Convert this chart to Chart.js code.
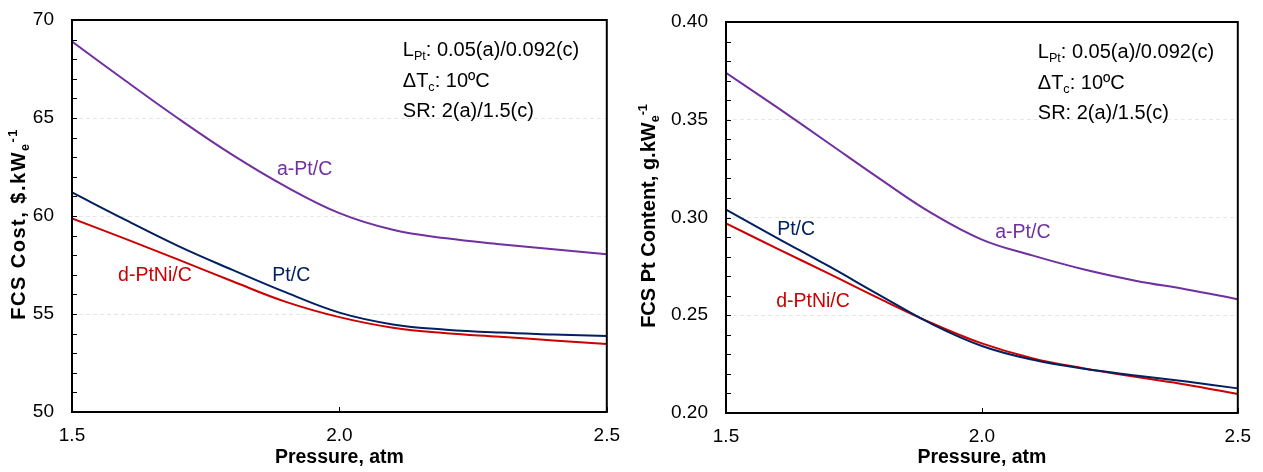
<!DOCTYPE html>
<html>
<head>
<meta charset="utf-8">
<script src="https://cdn.jsdelivr.net/npm/chart.js@4.4.1/dist/chart.umd.min.js"></script>
<style>
body { margin: 0; background: #fff; width: 1263px; height: 472px; overflow: hidden; position: relative; }
canvas { position: absolute; top: 0; }
#cost { left: 0; }
#ptc { left: 632px; }
</style>
</head>
<body>
<canvas id="cost" width="632" height="472"></canvas>
<canvas id="ptc" width="631" height="472"></canvas>
<script>
// values (pressure in atm)
var pressure = [1.5, 1.6, 1.7, 1.8, 1.9, 2.0, 2.1, 2.2, 2.3, 2.4, 2.5];

// FCS cost, $/kWe
var costAPtC  = [68.9, 66.9, 64.95, 63.12, 61.5, 60.15, 59.3, 58.86, 58.56, 58.3, 58.05];
var costPtC   = [61.2, 59.8, 58.45, 57.25, 56.1, 55.07, 54.47, 54.2, 54.05, 53.96, 53.88];
var costPtNiC = [59.88, 58.83, 57.76, 56.67, 55.62, 54.84, 54.3, 54.02, 53.84, 53.65, 53.47];

// FCS Pt content, g/kWe
var ptAPtC  = [0.374, 0.3563, 0.3381, 0.3199, 0.3025, 0.2887, 0.2805, 0.2734, 0.2677, 0.2632, 0.2582];
var ptPtC   = [0.304, 0.2895, 0.2752, 0.2603, 0.2458, 0.2343, 0.2272, 0.2226, 0.2192, 0.2161, 0.2126];
var ptPtNiC = [0.297, 0.2841, 0.2714, 0.2585, 0.2462, 0.2356, 0.2279, 0.2228, 0.2185, 0.2145, 0.2097];

var xTicks = [1.5, 2.0, 2.5];
var costRange = [50, 70];
var ptRange = [0.20, 0.40];

var notes = [
	[["L", 0], ["Pt", -1], [": 0.05(a)/0.092(c)", 0]],
	[["\u0394T", 0], ["c", -1], [": 10\u00baC", 0]],
	[["SR: 2(a)/1.5(c)", 0]]
];

var PURPLE = "#7030A0", NAVY = "#002060", RED = "#CC0000";
var FONT = "'Liberation Sans', Arial, sans-serif";

Chart.defaults.font.family = FONT;
Chart.defaults.color = "#000";

function fontStr(size, bold) {
	return (bold ? "bold " : "") + size + "px " + FONT;
}

// draws text with sub (-1) / superscript (1) pieces
function richText(ctx, parts, x, y, size, bold, align) {
	var small = size * 0.63;
	var w = 0;
	parts.forEach(p => {
		ctx.font = fontStr(p[1] ? small : size, bold);
		w += ctx.measureText(p[0]).width;
	});
	var cx = align == "center" ? x - w / 2 : x;
	parts.forEach(p => {
		ctx.font = fontStr(p[1] ? small : size, bold);
		var dy = p[1] == -1 ? size * 0.2 : (p[1] == 1 ? -size * 0.4 : 0);
		ctx.fillText(p[0], cx, y + dy);
		cx += ctx.measureText(p[0]).width;
	});
}

var framePlugin = {
	id: "frame",
	afterDraw(chart, args, o) {
		var ctx = chart.ctx, a = chart.chartArea, xs = chart.scales.x, ys = chart.scales.y;
		ctx.save();
		ctx.strokeStyle = "#000";
		ctx.lineWidth = 1;
		// small inward tick marks
		ys.ticks.forEach(t => {
			var py = Math.round(ys.getPixelForValue(t.value)) + 0.5;
			ctx.beginPath(); ctx.moveTo(a.left, py); ctx.lineTo(a.left + 5, py); ctx.stroke();
		});
		xs.ticks.forEach(t => {
			var px = Math.round(xs.getPixelForValue(t.value)) + 0.5;
			ctx.beginPath(); ctx.moveTo(px, a.bottom); ctx.lineTo(px, a.bottom - 5); ctx.stroke();
		});
		ctx.lineWidth = 2;
		ctx.strokeRect(a.left, a.top, a.right - a.left, a.bottom - a.top);

		// curve labels placed in data coordinates
		ctx.textAlign = "center";
		ctx.textBaseline = "middle";
		ctx.font = fontStr(19.5, false);
		o.labels.forEach(l => {
			ctx.fillStyle = l.color;
			ctx.fillText(l.text, xs.getPixelForValue(l.x), ys.getPixelForValue(l.y));
		});

		// conditions block
		ctx.textAlign = "left";
		ctx.textBaseline = "alphabetic";
		ctx.fillStyle = "#000";
		notes.forEach((n, i) => {
			richText(ctx, n, a.right + o.noteDx, a.top + 36 + i * 30.5, 20, false, "left");
		});

		// rotated y title
		ctx.translate(o.yTitleX, o.yTitleY);
		ctx.rotate(-Math.PI / 2);
		if (o.spacing) ctx.letterSpacing = o.spacing;
		richText(ctx, o.yTitle, 0, 0, 20, true, "center");
		ctx.restore();
	}
};

function line(label, data, color) {
	return {
		label: label,
		data: pressure.map((p, i) => ({x: p, y: data[i]})),
		borderColor: color,
		backgroundColor: color,
		borderWidth: 2,
		pointRadius: 0,
		fill: false,
		tension: 0.4
	};
}

function makeChart(id, sets, range, step, digits, lay) {
	var major = (v) => Math.abs(Math.round(v / (step * 5)) * step * 5 - v) < step / 10;
	return new Chart(document.getElementById(id), {
		type: "line",
		data: {datasets: sets},
		options: {
			responsive: false,
			animation: false,
			layout: {padding: {top: lay.top, right: lay.right, bottom: 0, left: 0}},
			plugins: {
				legend: {display: false},
				tooltip: {enabled: false},
				frame: lay.frame
			},
			scales: {
				x: {
					type: "linear",
					min: xTicks[0], max: xTicks[xTicks.length - 1],
					afterBuildTicks: s => { s.ticks = xTicks.map(v => ({value: v})); },
					afterFit: s => { s.height = lay.xh; },
					grid: {display: false, drawTicks: false},
					border: {display: false},
					ticks: {padding: 12, font: {size: 19}, callback: v => v.toFixed(1), maxRotation: 0},
					title: {display: true, text: "Pressure, atm", font: {size: 19.5, weight: "bold"}, padding: {top: 0, bottom: 3}}
				},
				y: {
					min: range[0], max: range[1],
					// fixed axis width; drop the label overhang so the plot top stays put
					afterFit: s => { s.width = lay.yw; s.paddingTop = 0; s.paddingBottom = 0; },
					grid: {
						drawTicks: false,
						color: c => (c.tick && major(c.tick.value) && c.tick.value > range[0] && c.tick.value < range[1]) ? "#e6e6e6" : "transparent"
					},
					border: {display: false, dash: [4, 3]},
					ticks: {
						stepSize: step, autoSkip: false, maxTicksLimit: 30, padding: 18,
						font: {size: 19},
						callback: v => major(v) ? v.toFixed(digits) : ""
					}
				}
			}
		},
		plugins: [framePlugin]
	});
}

makeChart("cost", [
	line("a-Pt/C", costAPtC, PURPLE),
	line("Pt/C", costPtC, NAVY),
	line("d-PtNi/C", costPtNiC, RED)
], costRange, 1, 0, {
	top: 20, right: 24, yw: 72, xh: 60,
	frame: {
		noteDx: -204, yTitleX: 25, yTitleY: 224, spacing: "1.5px",
		yTitle: [["FCS Cost, $.kW", 0], ["e", -1], ["-1", 1]],
		labels: [
			{text: "a-Pt/C", x: 1.935, y: 62.35, color: PURPLE},
			{text: "Pt/C", x: 1.91, y: 56.94, color: NAVY},
			{text: "d-PtNi/C", x: 1.655, y: 56.94, color: RED}
		]
	}
});

makeChart("ptc", [
	line("a-Pt/C", ptAPtC, PURPLE),
	line("Pt/C", ptPtC, NAVY),
	line("d-PtNi/C", ptPtNiC, RED)
], ptRange, 0.01, 2, {
	top: 22, right: 25, yw: 94, xh: 59,
	frame: {
		noteDx: -200, yTitleX: 23, yTitleY: 216,
		yTitle: [["FCS Pt Content, g.kW", 0], ["e", -1], ["-1", 1]],
		labels: [
			{text: "Pt/C", x: 1.637, y: 0.2936, color: NAVY},
			{text: "d-PtNi/C", x: 1.67, y: 0.2568, color: RED},
			{text: "a-Pt/C", x: 2.08, y: 0.2925, color: PURPLE}
		]
	}
});
</script>
</body>
</html>
